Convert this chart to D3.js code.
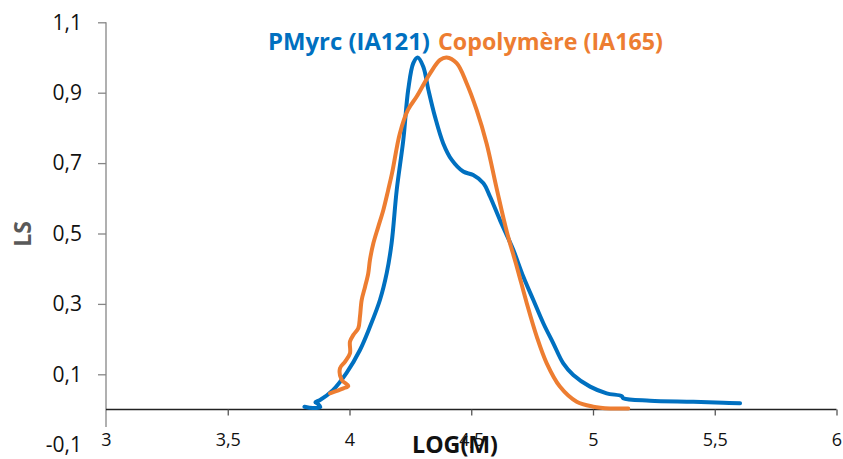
<!DOCTYPE html>
<html><head><meta charset="utf-8">
<script src="https://cdn.jsdelivr.net/npm/d3@7"></script>
<style>body{margin:0;background:#fff}svg{display:block}</style>
</head><body>
<script>
const xTicks = [3, 3.5, 4, 4.5, 5, 5.5, 6];
const xTickLabels = ["3", "3,5", "4", "4,5", "5", "5,5", "6"];
const yTicks = [-0.1, 0.1, 0.3, 0.5, 0.7, 0.9, 1.1];
const yTickLabels = ["-0,1", "0,1", "0,3", "0,5", "0,7", "0,9", "1,1"];
const seriesNames = ["PMyrc (IA121)", "Copolymère (IA165)"];
const seriesColors = ["#0070C0", "#ED7D31"];
const xTitle = "LOG(M)";
const yTitle = "LS";

// PMyrc (IA121): [log M, LS]
const pmyrc = [
  [3.815,0.008],[3.85,0.004],[3.88,0.007],[3.87,0.016],[3.86,0.021],[3.879,0.027],
  [3.932,0.055],[3.988,0.104],[4.043,0.169],[4.084,0.235],[4.125,0.311],[4.153,0.388],
  [4.173,0.473],[4.194,0.624],[4.221,0.766],[4.241,0.908],[4.262,0.984],[4.280,1.0],
  [4.303,0.974],[4.324,0.908],[4.351,0.832],[4.385,0.756],[4.420,0.709],[4.467,0.676],
  [4.508,0.666],[4.550,0.643],[4.577,0.605],[4.618,0.538],[4.652,0.486],[4.673,0.453],
  [4.714,0.377],[4.755,0.311],[4.796,0.245],[4.837,0.188],[4.878,0.131],[4.919,0.098],
  [4.988,0.065],[5.056,0.046],[5.118,0.038],[5.124,0.032],[5.234,0.025],[5.412,0.022],
  [5.535,0.019],[5.604,0.018]
];
// Copolymère (IA165): [log M, LS]
const copo = [
  [3.920,0.046],[3.975,0.060],[3.995,0.067],[3.968,0.084],[3.961,0.117],[3.982,0.136],
  [4.002,0.160],[4.002,0.193],[4.016,0.212],[4.036,0.231],[4.043,0.264],[4.050,0.311],
  [4.064,0.349],[4.077,0.387],[4.084,0.425],[4.098,0.472],[4.118,0.519],[4.139,0.567],
  [4.159,0.624],[4.175,0.672],[4.207,0.785],[4.240,0.851],[4.276,0.889],[4.331,0.955],
  [4.372,0.993],[4.399,1.0],[4.440,0.984],[4.481,0.927],[4.522,0.851],[4.563,0.756],
  [4.604,0.629],[4.646,0.505],[4.687,0.406],[4.728,0.302],[4.769,0.207],[4.810,0.131],
  [4.864,0.065],[4.933,0.022],[5.001,0.008],[5.070,0.003],[5.145,0.003]
];

const W = 843, H = 459;
const svg = d3.select("body").append("svg").attr("width", W).attr("height", H);
const x = d3.scaleLinear().domain([3, 6]).range([106, 836.5]);
const y = d3.scaleLinear().domain([-0.1, 1.1]).range([444.7, 22.3]);
const font = "'Open Sans', 'Liberation Sans', sans-serif";

function fit(sel, target, base) {
  const w = sel.node().getComputedTextLength();
  if (w > 0) sel.attr("font-size", base * target / w);
  return sel;
}

// Y axis
const yAxis = svg.append("g").attr("transform", `translate(${x(3)},0)`)
  .call(d3.axisLeft(y).tickValues(yTicks).tickSize(8).tickPadding(16)
    .tickFormat((d, i) => yTickLabels[i]));
yAxis.select(".domain").remove();
yAxis.selectAll(".tick line").attr("stroke", "#868686").attr("stroke-width", 1.3)
  .filter(d => d < 0).remove();
yAxis.selectAll(".tick text").attr("font-family", font).attr("font-size", 21).attr("fill", "#111");
svg.append("line").attr("x1", x(3)).attr("x2", x(3)).attr("y1", y(1.1)).attr("y2", y(-0.05))
  .attr("stroke", "#868686").attr("stroke-width", 1.3);

// X axis at y = 0
const xAxis = svg.append("g").attr("transform", `translate(0,${y(0)})`)
  .call(d3.axisBottom(x).tickValues(xTicks).tickSize(6).tickPadding(18)
    .tickFormat((d, i) => xTickLabels[i]));
xAxis.select(".domain").attr("stroke", "#222").attr("stroke-width", 1.3)
  .attr("d", `M${x(3)},0H${x(6)}`);
xAxis.selectAll(".tick line").attr("stroke", "#555").attr("stroke-width", 1.3)
  .filter(d => d === 3).remove();
xAxis.selectAll(".tick text").attr("font-family", font).attr("font-size", 18).attr("fill", "#111");

// Lines
const line = d3.line().x(d => x(d[0])).y(d => y(d[1])).curve(d3.curveCatmullRom.alpha(0.5));
[pmyrc, copo].forEach((data, i) => {
  svg.append("path").datum(data).attr("d", line).attr("fill", "none")
    .attr("stroke", seriesColors[i]).attr("stroke-width", 4)
    .attr("stroke-linejoin", "round").attr("stroke-linecap", "round");
});

// Legend
const legX = [268, 438], legW = [162, 225];
seriesNames.forEach((n, i) => {
  const t = svg.append("text").attr("x", legX[i]).attr("y", 50)
    .attr("font-family", font).attr("font-weight", "bold").attr("font-size", 23)
    .attr("fill", seriesColors[i]).text(n);
  fit(t, legW[i], 23);
});

// Axis titles
const xt = svg.append("text").attr("x", 455).attr("y", 453).attr("text-anchor", "middle")
  .attr("font-family", font).attr("font-weight", "bold").attr("font-size", 22)
  .attr("fill", "#111").text(xTitle);
fit(xt, 86, 22);
svg.append("text").attr("transform", `translate(31,234) rotate(-90)`).attr("text-anchor", "middle")
  .attr("font-family", font).attr("font-weight", "bold").attr("font-size", 23)
  .attr("fill", "#595959").text(yTitle);
</script>
</body></html>
